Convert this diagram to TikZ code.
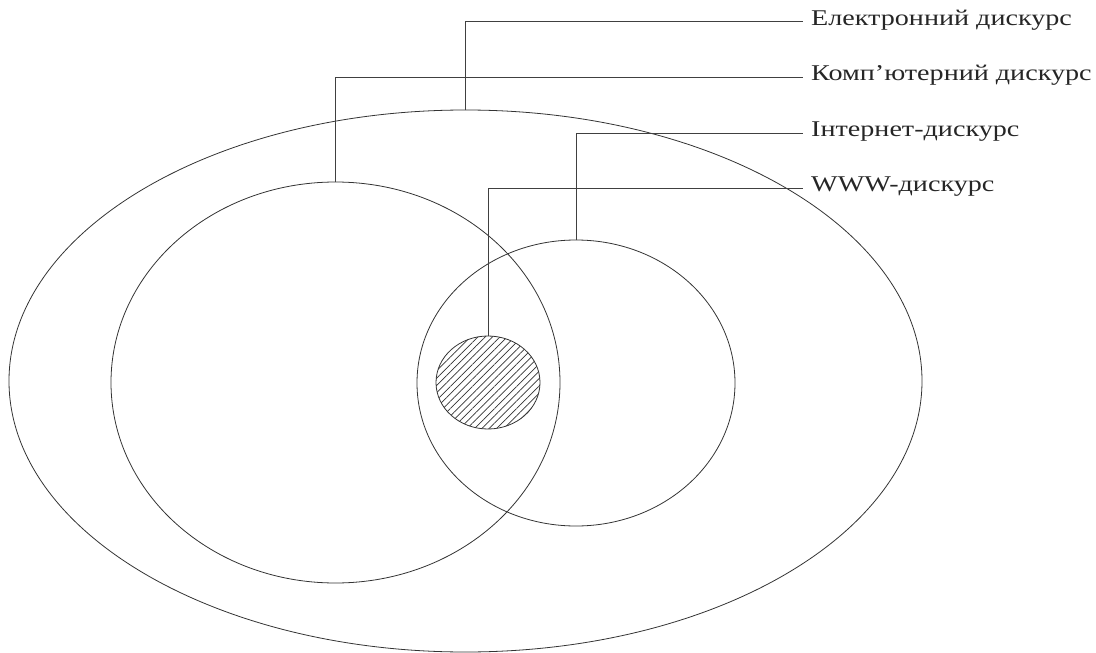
\documentclass[tikz,border=0pt]{standalone}
\usepackage{fontspec}
\setmainfont{Liberation Serif}
\newfontfamily\lblfont[FakeStretch=1.25]{Liberation Serif}
\usetikzlibrary{shapes.geometric,patterns.meta}
\begin{document}
\begin{tikzpicture}[x=1pt,y=-1pt,
  region/.style={ellipse,draw=black!80,line width=0.8pt,inner sep=0pt,outer sep=0pt},
  conn/.style={draw=black!75,line width=0.8pt},
  lbl/.style={anchor=west,inner xsep=8pt,inner ysep=0pt,text height=0.66em,text depth=0pt,font=\lblfont\fontsize{22.5}{24}\selectfont,text=black!85}]
\useasboundingbox (0,0) rectangle (1096,653);
\node[region,minimum width=913pt,minimum height=542pt] (outer) at (465.5,381) {};
\node[region,minimum width=449pt,minimum height=401pt] (comp) at (335.5,382.5) {};
\node[region,minimum width=318pt,minimum height=286pt] (inet) at (576,383) {};
\node[region,minimum width=104pt,minimum height=93pt,
  pattern={Lines[angle=45,distance=5.2pt,line width=0.7pt]},pattern color=black!80] (www) at (488,382.5) {};
\node[lbl] (l1) at (803,21.7) {Електронний дискурс};
\node[lbl] (l2) at (803,77) {Комп’ютерний дискурс};
\node[lbl] (l3) at (803,133) {Інтернет-дискурс};
\node[lbl] (l4) at (803,188) {WWW-дискурс};
\draw[conn] (outer.north) |- (l1.west);
\draw[conn] (comp.north) |- (l2.west);
\draw[conn] (inet.north) |- (l3.west);
\draw[conn] (www.north) |- (l4.west);
\end{tikzpicture}
\end{document}
